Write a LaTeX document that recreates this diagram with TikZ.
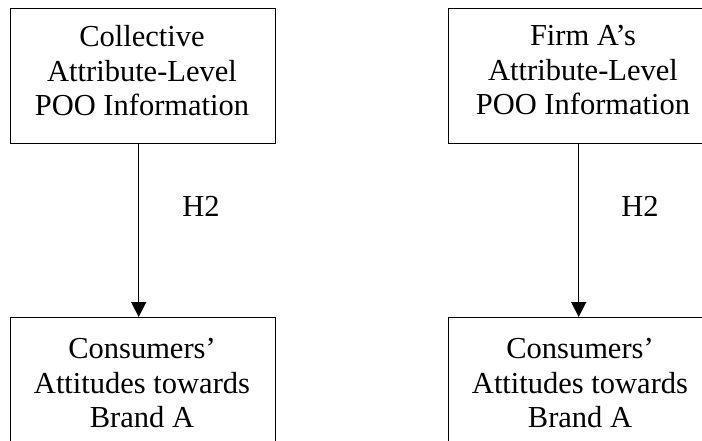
\documentclass[tikz,border=0pt]{standalone}
\usepackage{fontspec}
\setmainfont{Liberation Serif}
\usetikzlibrary{arrows.meta}
\begin{document}
\begin{tikzpicture}[x=1pt, y=-1pt,
  box/.style={draw, line width=1.4pt, minimum width=265pt, minimum height=135pt,
              inner sep=0pt, anchor=north west},
  txt/.style={align=center, inner sep=0pt, anchor=north,
              font=\fontsize{30.5}{34.5}\selectfont},
  lbl/.style={inner sep=0pt, anchor=base, font=\fontsize{30.5}{34.5}\selectfont},
  conn/.style={-{Triangle[width=15pt,length=15pt]}, line width=1.4pt}]
\useasboundingbox (0,0) rectangle (702,441);
\clip (0,0) rectangle (702,441);

% source boxes (top row)
\node[box] (srcL) at (10,8) {};
\node[box] (srcR) at (448,8) {};
% outcome boxes (bottom row, running past the lower edge)
\node[box] (attL) at (10,317) {};
\node[box] (attR) at (448,317) {};

% box texts
\node[txt] (srcLtext) at (142,25.2) {Collective\\Attribute-Level\\POO Information};
\node[txt] (srcRtext) at (583,25.2) {Firm A’s\\Attribute-Level\\POO Information};
\node[txt] (attLtext) at (142,338.2) {Consumers’\\Attitudes towards\\Brand A};
\node[txt] (attRtext) at (580,338.2) {Consumers’\\Attitudes towards\\Brand A};

% hypothesis paths
\draw[conn] ([xshift=-4.5pt]srcL.south) -- ([xshift=-4.5pt]attL.north);
\draw[conn] ([xshift=-2.5pt]srcR.south) -- ([xshift=-2.5pt]attR.north);

\node[lbl] (hypL) at (201,216) {H2};
\node[lbl] (hypR) at (640,216) {H2};
\end{tikzpicture}
\end{document}
